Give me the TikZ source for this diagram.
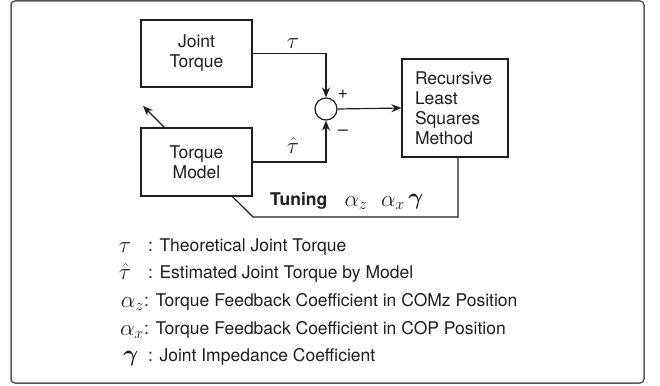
\RequirePackage{fix-cm}
\documentclass[tikz,border=0pt]{standalone}
\usepackage{amsmath}
\usepackage{fontspec}
\setmainfont{TeX Gyre Heros}
\usetikzlibrary{arrows.meta,calc}
\definecolor{ink}{HTML}{1E1E1E}
\definecolor{framec}{HTML}{5A5A5A}
\begin{document}
\begin{tikzpicture}[x=1pt,y=-1pt,
  every node/.style={font=\fontsize{17.5}{20}\selectfont, text=ink},
  blk/.style={draw=ink, line width=1.2pt, inner sep=0pt, align=center},
  conn/.style={draw=ink, line width=1.2pt},
  arr/.style={conn, -{Stealth[length=10pt,width=8pt]}},
  lab/.style={inner sep=0pt},
  mlab/.style={inner sep=0pt, font=\fontsize{23}{26}\selectfont},
  leg/.style={inner sep=0pt, anchor=west}]
\useasboundingbox (0,0) rectangle (660,385);
\draw[framec, line width=1.5pt, rounded corners=4pt] (11,1) rectangle (644,383);

\node[blk, minimum width=111pt, minimum height=67pt] (jt) at (196.5,53.5) {Joint\\Torque};
\node[blk, minimum width=111pt, minimum height=68pt] (tm) at (196.5,162) {Torque\\Model};
\node[draw=ink, line width=1.2pt, circle, minimum size=22pt, inner sep=0pt] (sum) at (326,109) {};
\node[blk, minimum width=106pt, minimum height=98pt, align=left, text width=80pt] (rls) at (455,108) {Recursive\\Least\\Squares\\Method};

\draw[arr] (jt.east) -| (sum.north);
\draw[arr] (tm.east) -| (sum.south);
\node[mlab] (taulab) at (293,44) {$\tau$};
\node[mlab] (tauhlab) at (293,146) {$\hat{\tau}$};
\node[lab] (plus) at (343,94) {+};
\node[lab] (minus) at (343,133) {\textendash};
\draw[arr] (sum.east) -- (rls.west);

\coordinate (up) at (143,106);
\draw[arr] ([xshift=24pt]tm.north west) -- (up);

\coordinate (fb) at (253,217);
\draw[conn] ([xshift=3pt]rls.south) |- (fb) -- ([xshift=92pt]tm.south west);

\node[lab, anchor=west] (tun) at (270,201) {\bfseries Tuning};
\node[mlab] (az) at (356,203) {$\alpha_z$};
\node[mlab] (ax) at (393,203) {$\alpha_x$};
\node[mlab] (gm) at (416,202) {$\boldsymbol{\gamma}$};

\node[mlab] (l1s) at (125,248) {$\tau$};
\node[leg] (l1) at (148,247) {: Theoretical Joint Torque};
\node[mlab] (l2s) at (125,272) {$\hat{\tau}$};
\node[leg] (l2) at (148,274) {: Estimated Joint Torque by Model};
\node[mlab, anchor=east] (l3s) at (144,304) {$\alpha_z$};
\node[leg] (l3) at (144,302) {: Torque Feedback Coefficient in COMz Position};
\node[mlab, anchor=east] (l4s) at (144,332) {$\alpha_x$};
\node[leg] (l4) at (144,330) {: Torque Feedback Coefficient in COP Position};
\node[mlab] (l5s) at (131,359) {$\boldsymbol{\gamma}$};
\node[leg] (l5) at (148,357) {: Joint Impedance Coefficient};
\end{tikzpicture}
\end{document}
